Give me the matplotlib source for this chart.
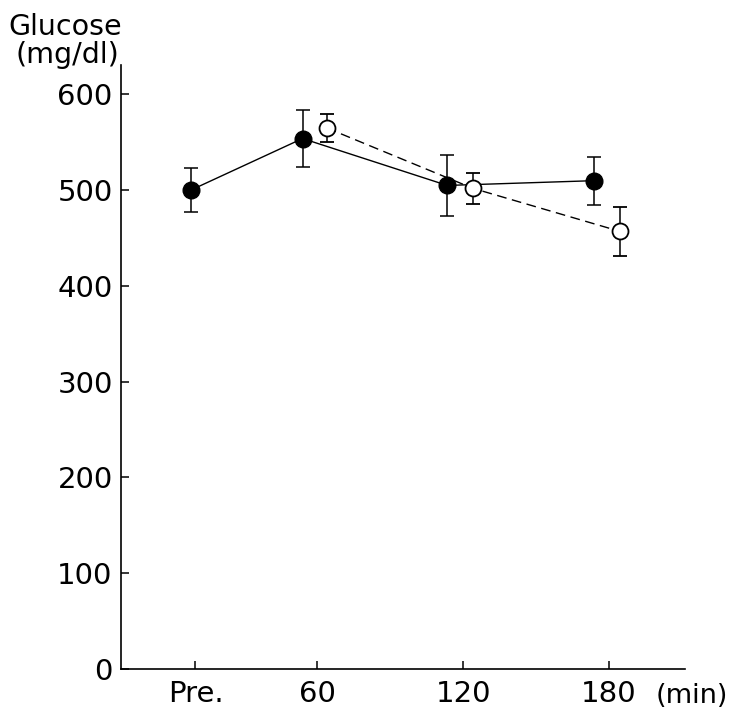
import matplotlib.pyplot as plt

# time axis (minutes); "Pre." is drawn a little before 60
tick_pos = [10, 60, 120, 180]
tick_labels = ['Pre.', '60', '120', '180']

# filled circles (solid line)
filled_x = [8, 54, 113.5, 174]
filled_mean = [500, 554, 505, 510]
filled_err = [23, 30, 32, 25]

# open circles (dashed line)
open_x = [64, 124, 184.5]
open_mean = [565, 502, 457]
open_err = [15, 16, 26]

y_ticks = [0, 100, 200, 300, 400, 500, 600]

plt.rcParams['font.family'] = ['DejaVu Sans']

fig = plt.figure(figsize=(7.32, 7.11), dpi=100)
ax = fig.add_axes([0.1653, 0.0591, 0.7705, 0.8495])

ax.errorbar(filled_x, filled_mean, yerr=filled_err, color='black', lw=1.0,
            elinewidth=1.1, capsize=5, capthick=1.1, marker='o', ms=12,
            mfc='black', mec='black', zorder=2)
ax.errorbar(open_x, open_mean, yerr=open_err, color='black', lw=1.0, ls=(0, (7, 4)),
            elinewidth=1.1, capsize=5, capthick=1.1, marker='o', ms=11.5,
            mfc='white', mec='black', mew=1.3, zorder=3)

ax.set_xlim(-20.6, 211.2)
ax.set_ylim(0, 630.8)

ax.set_xticks(tick_pos)
ax.set_xticklabels(tick_labels)
ax.set_yticks(y_ticks)
ax.tick_params(direction='in', length=6, width=1.1, labelsize=21)
ax.tick_params(axis='x', pad=8)
ax.tick_params(axis='y', pad=6)

for s in ['top', 'right']:
    ax.spines[s].set_visible(False)
for s in ['left', 'bottom']:
    ax.spines[s].set_linewidth(1.2)

fig.text(0.011, 0.951, 'Glucose', fontsize=20.5, ha='left', va='baseline')
fig.text(0.0205, 0.911, '(mg/dl)', fontsize=20.5, ha='left', va='baseline')
fig.text(0.895, 0.0113, '(min)', fontsize=19.5, ha='left', va='baseline')

plt.savefig('out.png', dpi=100)
